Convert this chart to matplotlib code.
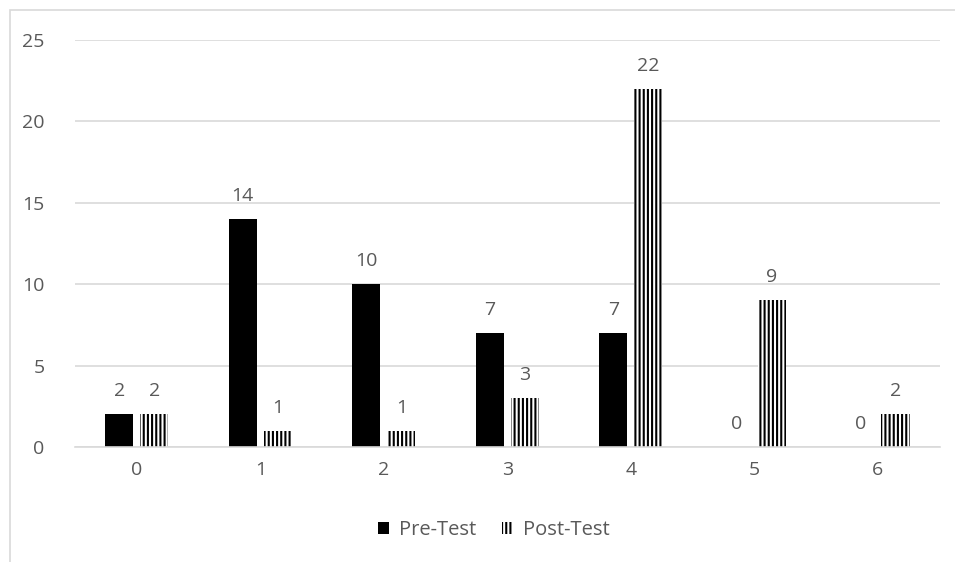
import matplotlib.pyplot as plt
from matplotlib.patches import Rectangle
import numpy as np

categories = ['0', '1', '2', '3', '4', '5', '6']
pre_test = [2, 14, 10, 7, 7, 0, 0]
post_test = [2, 1, 1, 3, 22, 9, 2]

plt.rcParams['font.family'] = ['Open Sans', 'DejaVu Sans']
plt.rcParams['hatch.linewidth'] = 1.5
gray = '#595959'

fig = plt.figure(figsize=(9.55, 5.62), dpi=100)
ax = fig.add_axes([0.0785, 0.2046, 0.9055, 0.7242])

x = np.arange(len(categories))
w = 0.227
b1 = ax.bar(x - 0.142, pre_test, w, color='black', label='Pre-Test')
b2 = ax.bar(x + 0.142, post_test, w, color='white', edgecolor='black',
            hatch='||||', linewidth=0, label='Post-Test')

for bars, vals in [(b1, pre_test), (b2, post_test)]:
    for r, v in zip(bars, vals):
        ax.annotate(str(v), (r.get_x() + r.get_width() / 2, v),
                    xytext=(0, 13), textcoords='offset points',
                    ha='center', va='baseline', fontsize=14, color=gray)

ax.set_ylim(0, 25)
ax.set_xlim(-0.5, 6.5)
ax.set_yticks([0, 5, 10, 15, 20, 25])
ax.set_xticks(x)
ax.set_xticklabels(categories)
ax.tick_params(length=0, labelsize=14, labelcolor=gray)
ax.tick_params(axis='y', pad=22)
ax.tick_params(axis='x', pad=10)
ax.grid(axis='y', color='#d9d9d9', linewidth=1.2)
ax.set_axisbelow(True)
for s in ['top', 'right', 'left']:
    ax.spines[s].set_visible(False)
ax.spines['bottom'].set_color('#d9d9d9')
ax.spines['bottom'].set_linewidth(1.2)

ax.legend(loc='center', bbox_to_anchor=(494 / 955, 1 - 530 / 562), bbox_transform=fig.transFigure,
          ncol=2, frameon=False, fontsize=14.5, labelcolor=gray,
          handlelength=0.55, handleheight=0.55, handletextpad=0.5, columnspacing=1.3)

fig.patches.append(Rectangle((10 / 955, -0.1), 1.2, 1.1 - 10 / 562, transform=fig.transFigure,
                             fill=False, edgecolor='#d9d9d9', linewidth=1.2))

fig.savefig('out.png', dpi=100)
